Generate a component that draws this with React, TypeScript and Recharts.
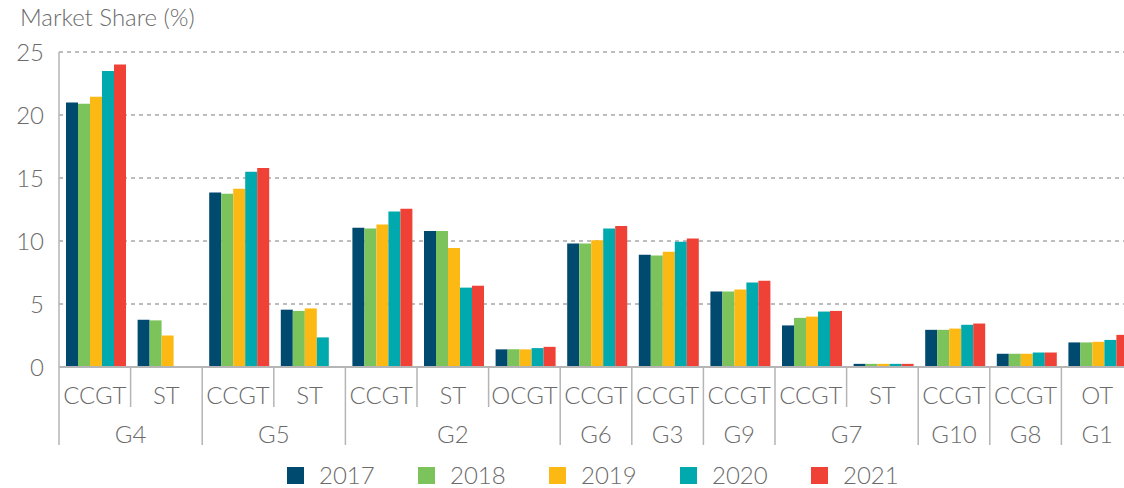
import { Bar, BarChart, CartesianGrid, XAxis, YAxis } from 'recharts'

const CATEGORIES = ['CCGT', 'ST', 'CCGT', 'ST', 'CCGT', 'ST', 'OCGT', 'CCGT', 'CCGT', 'CCGT', 'CCGT', 'ST', 'CCGT', 'CCGT', 'OT']
const GROUPS = ['G4', 'G4', 'G5', 'G5', 'G2', 'G2', 'G2', 'G6', 'G3', 'G9', 'G7', 'G7', 'G10', 'G8', 'G1']

const Y2017 = [21.0, 3.75, 13.85, 4.55, 11.05, 10.8, 1.4, 9.8, 8.9, 6.0, 3.3, 0.25, 2.95, 1.05, 1.95]
const Y2018 = [20.9, 3.7, 13.75, 4.45, 11.0, 10.8, 1.4, 9.8, 8.85, 6.0, 3.9, 0.25, 2.95, 1.05, 1.95]
const Y2019 = [21.45, 2.5, 14.15, 4.65, 11.3, 9.45, 1.4, 10.05, 9.15, 6.15, 4.0, 0.25, 3.05, 1.05, 2.0]
const Y2020 = [23.5, null, 15.5, 2.35, 12.35, 6.3, 1.5, 11.0, 9.95, 6.7, 4.4, 0.25, 3.35, 1.15, 2.15]
const Y2021 = [24.0, null, 15.8, null, 12.55, 6.45, 1.6, 11.2, 10.2, 6.85, 4.45, 0.25, 3.45, 1.15, 2.55]

const Y_TICKS = [0, 5, 10, 15, 20, 25]

const SERIES = [
  { key: '2017', values: Y2017, color: '#00496f' },
  { key: '2018', values: Y2018, color: '#7dc35b' },
  { key: '2019', values: Y2019, color: '#fdb913' },
  { key: '2020', values: Y2020, color: '#00a9ae' },
  { key: '2021', values: Y2021, color: '#ef4136' },
]

const data = CATEGORIES.map((_, i) => {
  const row: Record<string, number | null> = { id: i }
  SERIES.forEach((s) => {
    row[s.key] = s.values[i]
  })
  return row
})

const FONT = 'Lato, "Open Sans", sans-serif'
const WEIGHT = 300
const TEXT = '#6b6b6b'
const LINE = '#b5b5b5'

const CHART_W = 1140
const CHART_H = 450
const PLOT_LEFT = 59
const PLOT_RIGHT = 1133
const BAND = (PLOT_RIGHT - PLOT_LEFT) / CATEGORIES.length

function CategoryTick(props: any) {
  const { x, y, payload } = props
  const i = Number(payload.value)
  const left = x - BAND / 2
  const groupStart = i === 0 || GROUPS[i] !== GROUPS[i - 1]
  let span = 1
  while (i + span < GROUPS.length && GROUPS[i + span] === GROUPS[i]) span++

  return (
    <g>
      <line
        x1={left}
        x2={left}
        y1={y}
        y2={groupStart ? y + 78 : y + 40}
        stroke={LINE}
        strokeWidth={1.5}
      />
      <text
        x={x}
        y={y + 37}
        textAnchor="middle"
        fill={TEXT}
        fontSize={24}
        fontWeight={WEIGHT}
        fontFamily={FONT}
      >
        {CATEGORIES[i]}
      </text>
      {groupStart && (
        <text
          x={left + (span * BAND) / 2}
          y={y + 76}
          textAnchor="middle"
          fill={TEXT}
          fontSize={24}
          fontWeight={WEIGHT}
          fontFamily={FONT}
        >
          {GROUPS[i]}
        </text>
      )}
    </g>
  )
}

export default function App() {
  return (
    <div
      style={{
        position: 'absolute',
        left: 0,
        top: 0,
        width: 1124,
        height: 488,
        overflow: 'hidden',
        background: '#fff',
        fontFamily: FONT,
        fontWeight: WEIGHT,
      }}
    >
      <div
        style={{
          position: 'absolute',
          left: 20,
          top: 5,
          fontSize: 24,
          lineHeight: 1,
          color: TEXT,
        }}
      >
        Market Share (%)
      </div>
      <BarChart
        width={CHART_W}
        height={CHART_H}
        data={data}
        margin={{ top: 52, right: CHART_W - PLOT_RIGHT, bottom: 5, left: 0 }}
        barCategoryGap={7}
        barGap={0}
      >
        <CartesianGrid vertical={false} stroke="#a8a8a8" strokeDasharray="4 4" strokeWidth={1.5} />
        <XAxis
          dataKey="id"
          type="category"
          interval={0}
          height={78}
          tickLine={false}
          tickSize={0}
          tickMargin={0}
          axisLine={{ stroke: LINE, strokeWidth: 2 }}
          tick={CategoryTick}
        />
        <YAxis
          width={PLOT_LEFT}
          domain={[0, 25]}
          ticks={Y_TICKS}
          tickLine={false}
          tickMargin={9}
          axisLine={{ stroke: LINE, strokeWidth: 1.5 }}
          tick={{ fill: TEXT, fontSize: 24, fontWeight: WEIGHT, fontFamily: FONT }}
        />
        {SERIES.map((s) => (
          <Bar key={s.key} dataKey={s.key} fill={s.color} isAnimationActive={false} />
        ))}
      </BarChart>
      <div style={{ position: 'absolute', left: 287, top: 463, display: 'flex' }}>
        {SERIES.map((s) => (
          <div key={s.key} style={{ width: 131, display: 'flex', alignItems: 'center' }}>
            <span style={{ width: 17, height: 17, background: s.color, marginRight: 15 }} />
            <span style={{ fontSize: 24, color: TEXT, lineHeight: 1 }}>{s.key}</span>
          </div>
        ))}
      </div>
    </div>
  )
}
